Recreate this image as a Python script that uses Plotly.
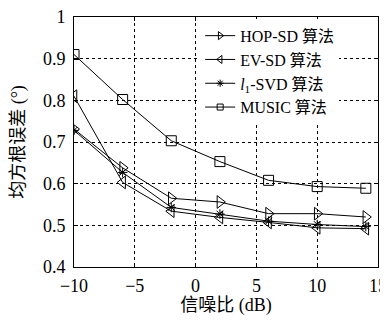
import plotly.graph_objects as go

snr = [-10, -6, -2, 2, 6, 10, 14]
hop_sd = [0.731, 0.638, 0.565, 0.556, 0.528, 0.528, 0.520]
ev_sd = [0.810, 0.603, 0.534, 0.519, 0.507, 0.494, 0.492]
l1_svd = [0.728, 0.627, 0.543, 0.527, 0.510, 0.502, 0.497]
music = [0.910, 0.802, 0.703, 0.653, 0.608, 0.593, 0.589]

names = ["HOP-SD 算法", "EV-SD 算法", "<i>l</i><sub>1</sub>-SVD 算法", "MUSIC 算法"]
series = [hop_sd, ev_sd, l1_svd, music]
symbols = ["triangle-right-open", "triangle-left-open", "asterisk-open", "square-open"]
sizes = [11, 11, 8, 10]
leg_sizes = [7, 7, 6, 6]

serif = "Liberation Serif, Noto Sans CJK SC, serif"

fig = go.Figure()
for n, s, sym, sz in zip(names, series, symbols, sizes):
    fig.add_trace(go.Scatter(
        x=snr, y=s, name=n, mode="lines+markers", showlegend=False,
        line=dict(color="black", width=1),
        marker=dict(symbol=sym, size=sz, color="black", line=dict(color="black", width=1)),
    ))
# legend entries with smaller symbols, as in the reference
for n, sym, sz in zip(names, symbols, leg_sizes):
    fig.add_trace(go.Scatter(
        x=[None], y=[None], name=n, mode="lines+markers", showlegend=True,
        line=dict(color="black", width=1),
        marker=dict(symbol=sym, size=sz, color="black", line=dict(color="black", width=1)),
    ))

axis_common = dict(
    showline=True, linecolor="black", linewidth=1, mirror="ticks",
    ticks="inside", ticklen=4, tickcolor="black",
    showgrid=True, gridcolor="black", griddash="dot", gridwidth=1,
    zeroline=False, ticklabeloverflow="allow", automargin=False,
    tickfont=dict(family=serif, size=18, color="black"),
)

# page body has an 8px default margin, so the figure is drawn at (8, 8)
fig.update_layout(
    width=380, height=308,
    margin=dict(l=66, r=10, t=9, b=49, autoexpand=False),
    paper_bgcolor="white", plot_bgcolor="white",
    showlegend=True,
    legend=dict(x=0.415, y=0.993, xanchor="left", yanchor="top",
                bgcolor="white", bordercolor="white", borderwidth=0,
                font=dict(family=serif, size=16, color="black"),
                tracegroupgap=0, itemwidth=30),
    xaxis=dict(range=[-10, 15], tickvals=[-10, -5, 0, 5, 10, 15],
               ticktext=["−10", "−5", "0", "5", "10", "15"],
               ticklabelstandoff=2,
               title=dict(text="信噪比 (dB)", font=dict(family=serif, size=18, color="black"), standoff=13),
               **axis_common),
    yaxis=dict(range=[0.4, 1.0], tickvals=[0.4, 0.5, 0.6, 0.7, 0.8, 0.9, 1.0],
               ticktext=["0.4", "0.5", "0.6", "0.7", "0.8", "0.9", "1"],
               ticklabelstandoff=4,
               title=dict(text="均方根误差 (°)", font=dict(family=serif, size=18, color="black"), standoff=14),
               **axis_common),
)

fig.write_html("out.html")
